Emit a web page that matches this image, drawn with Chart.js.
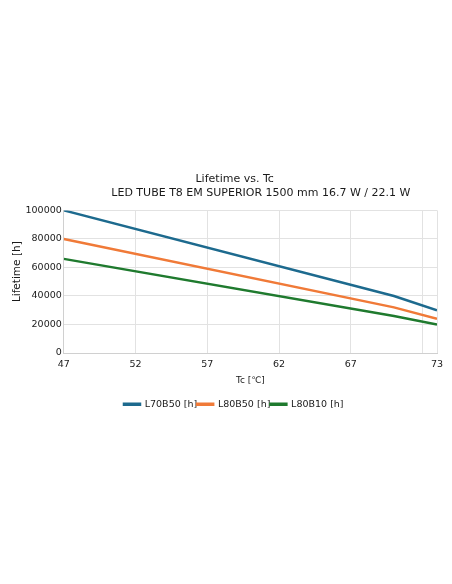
<!DOCTYPE html>
<html>
<head>
<meta charset="utf-8">
<title>Lifetime vs. Tc</title>
<script src="https://cdn.jsdelivr.net/npm/chart.js@4.4.1/dist/chart.umd.min.js"></script>
<style>
  html, body { margin: 0; padding: 0; background: #fff; }
  #wrap { width: 452px; height: 584px; position: relative; }
</style>
</head>
<body>
<div id="wrap"><canvas id="lifeChart"></canvas></div>
<script>
// values
const tcValues = [47, 70, 73];
const l70b50 = [100000, 40000, 30000];
const l80b50 = [80000, 32000, 24000];
const l80b10 = [66000, 26000, 20000];
const seriesNames = ['L70B50 [h]', 'L80B50 [h]', 'L80B10 [h]'];
const xTickValues = [47, 52, 57, 62, 67, 72, 73];
const xHiddenLabels = [72];

const FONT = "'DejaVu Sans', sans-serif";

function toPoints(values) {
    return tcValues.map((tc, i) => ({ x: tc, y: values[i] }));
}

function makeSet(name, values, color) {
    return {
        label: name,
        data: toPoints(values),
        borderColor: color,
        backgroundColor: color,
        borderWidth: 2.5,
        pointRadius: 0,
        pointHoverRadius: 0,
        tension: 0,
        fill: false
    };
}

const ctx = document.getElementById('lifeChart').getContext('2d');

new Chart(ctx, {
    type: 'line',
    data: {
        datasets: [
            makeSet(seriesNames[0], l70b50, '#1d6a8e'),
            makeSet(seriesNames[1], l80b50, '#f07a38'),
            makeSet(seriesNames[2], l80b10, '#1f7a2e')
        ]
    },
    options: {
        responsive: true,
        maintainAspectRatio: false,
        animation: false,
        layout: { padding: { top: 170, right: 15, bottom: 165, left: 12 } },
        plugins: {
            title: {
                display: true,
                fullSize: false,
                // spaces nudge each line to where it sits in the original
                text: ['Lifetime vs. Tc         ', '      LED TUBE T8 EM SUPERIOR 1500 mm 16.7 W / 22.1 W'],
                color: '#1a1a1a',
                font: { family: FONT, size: 11, weight: 'normal', lineHeight: 1.2 },
                padding: { top: 3, bottom: 11 }
            },
            legend: {
                position: 'bottom',
                fullSize: false,
                labels: {
                    color: '#1a1a1a',
                    font: { family: FONT, size: 9.5 },
                    boxWidth: 16,
                    boxHeight: 1,
                    padding: 0,
                    generateLabels: chart => {
                        const items = Chart.defaults.plugins.legend.labels.generateLabels(chart);
                        // trailing blanks move the centred row a bit to the left, like the original
                        items[items.length - 1].text += ' '.repeat(11);
                        return items;
                    }
                }
            },
            tooltip: { enabled: false }
        },
        scales: {
            x: {
                type: 'linear',
                min: 47,
                max: 73,
                afterBuildTicks: scale => {
                    scale.ticks = xTickValues.map(v => ({ value: v }));
                },
                ticks: {
                    color: '#1a1a1a',
                    font: { family: FONT, size: 9.5, lineHeight: 1 },
                    padding: 7,
                    maxRotation: 0,
                    autoSkip: false,
                    callback: v => xHiddenLabels.includes(v) ? '' : v
                },
                grid: { color: '#e2e2e2', drawTicks: false },
                border: { color: '#d0d0d0' },
                title: {
                    display: true,
                    text: 'Tc [℃]',
                    color: '#1a1a1a',
                    font: { family: FONT, size: 9, lineHeight: 1 },
                    padding: { top: 0, bottom: 14 }
                }
            },
            y: {
                min: 0,
                max: 100000,
                ticks: {
                    stepSize: 20000,
                    color: '#1a1a1a',
                    font: { family: FONT, size: 9.5 },
                    padding: 2,
                    callback: v => String(v)
                },
                grid: { color: '#e2e2e2', drawTicks: false },
                border: { color: '#d0d0d0' },
                title: {
                    display: true,
                    text: '      Lifetime [h]',
                    color: '#1a1a1a',
                    font: { family: FONT, size: 10.5, lineHeight: 1 },
                    padding: { top: 0, bottom: 1 }
                }
            }
        }
    }
});
</script>
</body>
</html>
